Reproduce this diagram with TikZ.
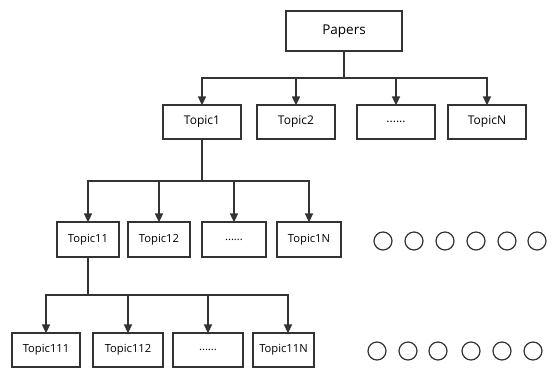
\documentclass[tikz,border=0pt]{standalone}
\usepackage{fontspec}
\setmainfont{Open Sans}
\usetikzlibrary{arrows.meta}
\definecolor{ln}{HTML}{333333}
\tikzset{
  box/.style={draw=ln, line width=1.2pt, rectangle, inner sep=0pt, fill=white, text=black},
  conn/.style={draw=ln, line width=1.4pt, -{Triangle[length=9pt,width=8pt]}},
  trunk/.style={draw=ln, line width=2pt},
  dotc/.style={draw=ln, line width=1.2pt, circle, inner sep=0pt, minimum size=18pt},
}
\begin{document}
\begin{tikzpicture}[x=1pt,y=-1pt]
\useasboundingbox (0,0) rectangle (554,368);
% level 0
\node[box, minimum width=116pt, minimum height=40pt, font=\fontsize{13.5}{15}\selectfont] (papers) at (344,31) {Papers};
% level 1
\begin{scope}[every node/.append style={font=\fontsize{12}{14}\selectfont, minimum height=34pt}]
\node[box, minimum width=78pt] (t1) at (202,122) {Topic1};
\node[box, minimum width=78pt] (t2) at (296,122) {Topic2};
\node[box, minimum width=78pt] (td) at (396,122) {......};
\node[box, minimum width=78pt] (tn) at (487,122) {TopicN};
\end{scope}
% level 2
\begin{scope}[every node/.append style={font=\fontsize{11.2}{13}\selectfont, minimum height=35pt}]
\node[box, minimum width=62pt] (t11) at (88,239.5) {Topic11};
\node[box, minimum width=62pt] (t12) at (159,239.5) {Topic12};
\node[box, minimum width=64pt] (t1d) at (234,239.5) {......};
\node[box, minimum width=64pt] (t1n) at (309,239.5) {Topic1N};
\end{scope}
% level 3
\begin{scope}[every node/.append style={font=\fontsize{11.2}{13}\selectfont, minimum height=34pt}]
\node[box, minimum width=68pt] (t111) at (46,350) {Topic111};
\node[box, minimum width=70pt] (t112) at (128,350) {Topic112};
\node[box, minimum width=70pt] (t11d) at (208,350) {......};
\node[box, minimum width=61pt] (t11n) at (283.5,350) {Topic11N};
\end{scope}
% connector bars
\coordinate (b0) at (344,78);
\coordinate (b1) at (202,181);
\coordinate (b2) at (88,295);
\draw[trunk] (papers.south) -- (b0);
\draw[trunk] (t1.south) -- (b1);
\draw[trunk] (t11.south) -- (b2);
\foreach \c in {t1,t2,td,tn} \draw[conn] (b0) -| ([yshift=-1pt]\c.north);
\foreach \c in {t11,t12,t1d,t1n} \draw[conn] (b1) -| ([yshift=-1pt]\c.north);
\foreach \c in {t111,t112,t11d} \draw[conn] (b2) -| ([yshift=-1pt]\c.north);
\draw[conn] (b2) -| ([xshift=4.5pt,yshift=-1pt]t11n.north);
% ellipsis circles
\foreach \x [count=\i] in {383,414,445,476,507,537} \node[dotc] (ca\i) at (\x,241) {};
\foreach \x [count=\i] in {377,408,438,471,502,533} \node[dotc] (cb\i) at (\x,351) {};
\end{tikzpicture}
\end{document}
